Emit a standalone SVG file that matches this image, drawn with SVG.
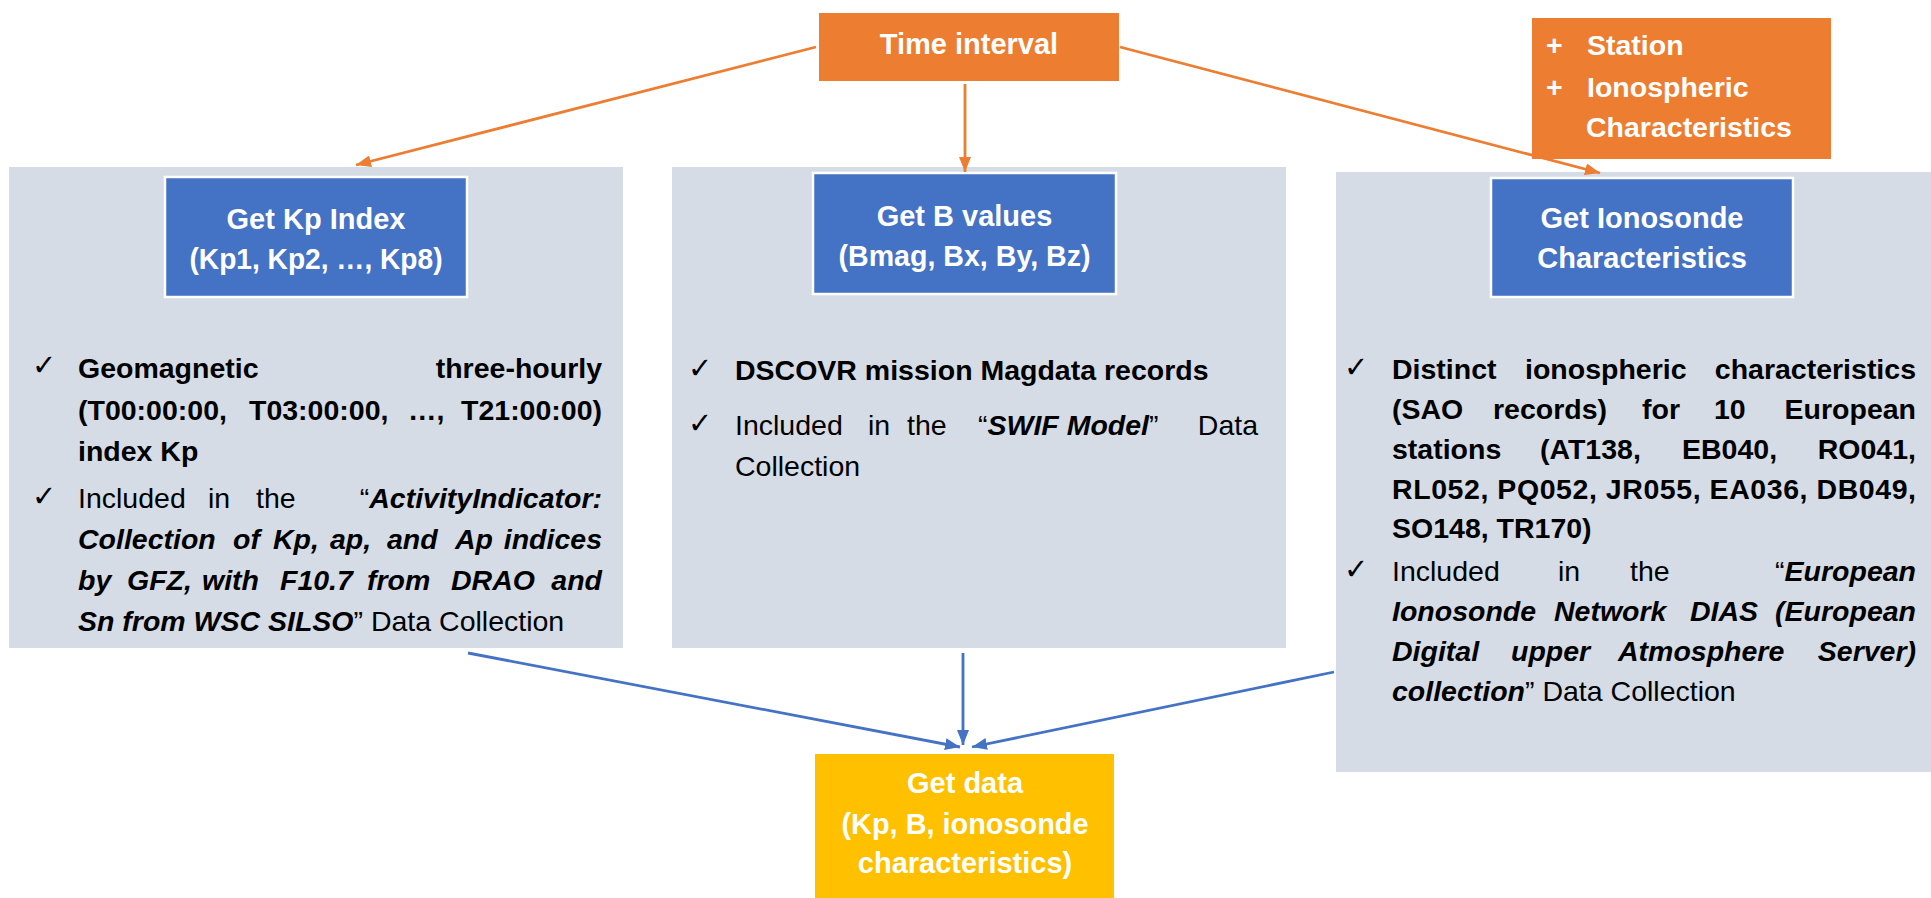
<svg xmlns="http://www.w3.org/2000/svg" width="1931" height="898" viewBox="0 0 1931 898">
<defs>
<style>
text { font-family: "Liberation Sans", Arial, sans-serif; }
.panel { fill: #D6DCE5; }
.blue { fill: #4472C4; stroke: #FFFFFF; stroke-width: 2.5; }
.orange { fill: #ED7D31; }
.yellow { fill: #FFC000; }
.hd { font-weight: bold; fill: #FFFFFF; font-size: 29px; text-anchor: middle; }
.ow { font-weight: bold; fill: #FFFFFF; font-size: 28.5px; }
.b { font-size: 28.5px; fill: #000000; }
.bo { font-weight: bold; }
.bi { font-weight: bold; font-style: italic; }
.end { text-anchor: end; }
.ck { font-family: "DejaVu Sans", sans-serif; font-size: 29px; fill: #000000; }
.ca { fill: none; stroke: #ED7D31; stroke-width: 2.8; }
.cb { fill: none; stroke: #4472C4; stroke-width: 2.8; }
</style>
<marker id="ao" markerUnits="userSpaceOnUse" markerWidth="16" markerHeight="12" refX="15" refY="6" orient="auto">
<path d="M0,0 L15,6 L0,12 z" fill="#ED7D31"/>
</marker>
<marker id="ab" markerUnits="userSpaceOnUse" markerWidth="16" markerHeight="12" refX="15" refY="6" orient="auto">
<path d="M0,0 L15,6 L0,12 z" fill="#4472C4"/>
</marker>
</defs>
<rect width="1931" height="898" fill="#FFFFFF"/>

<g id="panel-kp">
<rect class="panel" x="9" y="167" width="614" height="481"/>
<text class="ck" x="32" y="375">✓</text>
<text class="b bo" y="378"><tspan x="78">Geomagnetic</tspan></text>
<text class="b bo end" x="602" y="378">three-hourly</text>
<text class="b bo" y="420"><tspan x="78">(T00:00:00,</tspan><tspan x="249">T03:00:00,</tspan><tspan x="408">…,</tspan></text>
<text class="b bo end" x="602" y="420">T21:00:00)</text>
<text class="b bo" x="78" y="461">index Kp</text>
<text class="ck" x="32" y="506">✓</text>
<text class="b" y="508"><tspan x="78">Included</tspan><tspan x="208">in</tspan><tspan x="256">the</tspan></text>
<text class="b end" x="602" y="508">“<tspan class="bi">ActivityIndicator:</tspan></text>
<text class="b bi" y="549"><tspan x="78">Collection</tspan><tspan x="233">of</tspan><tspan x="273">Kp,</tspan><tspan x="330">ap,</tspan><tspan x="387">and</tspan><tspan x="455">Ap</tspan></text>
<text class="b bi end" x="602" y="549">indices</text>
<text class="b bi" y="590"><tspan x="78">by</tspan><tspan x="127">GFZ,</tspan><tspan x="202">with</tspan><tspan x="280">F10.7</tspan><tspan x="367">from</tspan><tspan x="451">DRAO</tspan></text>
<text class="b bi end" x="602" y="590">and</text>
<text class="b" x="78" y="631"><tspan class="bi">Sn from WSC SILSO</tspan>” Data Collection</text>
</g>

<g id="panel-b">
<rect class="panel" x="672" y="167" width="614" height="481"/>
<text class="ck" x="688" y="378">✓</text>
<text class="b bo" x="735" y="380">DSCOVR mission Magdata records</text>
<text class="ck" x="688" y="433">✓</text>
<text class="b" y="435"><tspan x="735">Included</tspan><tspan x="868">in</tspan><tspan x="907">the</tspan><tspan x="978">“</tspan><tspan class="bi">SWIF Model</tspan>”</text>
<text class="b end" x="1258" y="435">Data</text>
<text class="b" x="735" y="476">Collection</text>
</g>

<g id="panel-iono">
<rect class="panel" x="1336" y="172" width="595" height="600"/>
<text class="ck" x="1344" y="377">✓</text>
<text class="b bo" y="379"><tspan x="1392">Distinct</tspan><tspan x="1525">ionospheric</tspan></text>
<text class="b bo end" x="1916" y="379">characteristics</text>
<text class="b bo" y="419"><tspan x="1392">(SAO</tspan><tspan x="1493">records)</tspan><tspan x="1642">for</tspan><tspan x="1714">10</tspan></text>
<text class="b bo end" x="1916" y="419">European</text>
<text class="b bo" y="459"><tspan x="1392">stations</tspan><tspan x="1540">(AT138,</tspan><tspan x="1682">EB040,</tspan></text>
<text class="b bo end" x="1916" y="459">RO041,</text>
<text class="b bo" x="1392" y="499" textLength="524" lengthAdjust="spacing">RL052, PQ052, JR055, EA036, DB049,</text>
<text class="b bo" x="1392" y="538">SO148, TR170)</text>
<text class="ck" x="1344" y="579">✓</text>
<text class="b" y="581"><tspan x="1392">Included</tspan><tspan x="1558">in</tspan><tspan x="1630">the</tspan></text>
<text class="b end" x="1916" y="581">“<tspan class="bi">European</tspan></text>
<text class="b bi" y="621"><tspan x="1392">Ionosonde</tspan><tspan x="1554">Network</tspan><tspan x="1690">DIAS</tspan></text>
<text class="b bi end" x="1916" y="621">(European</text>
<text class="b bi" y="661"><tspan x="1392">Digital</tspan><tspan x="1511">upper</tspan><tspan x="1618">Atmosphere</tspan></text>
<text class="b bi end" x="1916" y="661">Server)</text>
<text class="b" x="1392" y="701"><tspan class="bi">collection</tspan>” Data Collection</text>
</g>

<g id="node-kp">
<rect class="blue" x="165" y="177" width="302" height="120"/>
<text class="hd" x="316" y="229">Get Kp Index</text>
<text class="hd" x="316" y="269" textLength="253" lengthAdjust="spacingAndGlyphs">(Kp1, Kp2, …, Kp8)</text>
</g>

<g id="node-b">
<rect class="blue" x="813" y="173" width="303" height="121"/>
<text class="hd" x="964.5" y="226">Get B values</text>
<text class="hd" x="964.5" y="266" textLength="252" lengthAdjust="spacingAndGlyphs">(Bmag, Bx, By, Bz)</text>
</g>

<g id="node-iono">
<rect class="blue" x="1491" y="178" width="302" height="119"/>
<text class="hd" x="1642" y="228">Get Ionosonde</text>
<text class="hd" x="1642" y="268">Characteristics</text>
</g>

<g id="connectors">
<line class="ca" x1="816" y1="47" x2="356" y2="165" marker-end="url(#ao)"/>
<line class="ca" x1="965" y1="84" x2="965" y2="172" marker-end="url(#ao)"/>
<line class="ca" x1="1120" y1="47" x2="1600" y2="173" marker-end="url(#ao)"/>
<line class="cb" x1="468" y1="653" x2="960" y2="747" marker-end="url(#ab)"/>
<line class="cb" x1="963" y1="653" x2="963" y2="745" marker-end="url(#ab)"/>
<line class="cb" x1="1334" y1="672" x2="972" y2="747" marker-end="url(#ab)"/>
</g>

<g id="node-time">
<rect class="orange" x="819" y="13" width="300" height="68"/>
<text class="hd" x="969" y="54">Time interval</text>
</g>

<g id="node-station">
<rect class="orange" x="1532" y="18" width="299" height="141"/>
<text class="ow" x="1546" y="55">+</text>
<text class="ow" x="1587" y="55">Station</text>
<text class="ow" x="1546" y="97">+</text>
<text class="ow" x="1587" y="97">Ionospheric</text>
<text class="ow" x="1586" y="137">Characteristics</text>
</g>

<g id="node-data">
<rect class="yellow" x="815" y="754" width="299" height="150"/>
<text class="hd" x="965" y="793">Get data</text>
<text class="hd" x="965" y="834" textLength="247" lengthAdjust="spacingAndGlyphs">(Kp, B, ionosonde</text>
<text class="hd" x="965" y="873">characteristics)</text>
</g>
</svg>
